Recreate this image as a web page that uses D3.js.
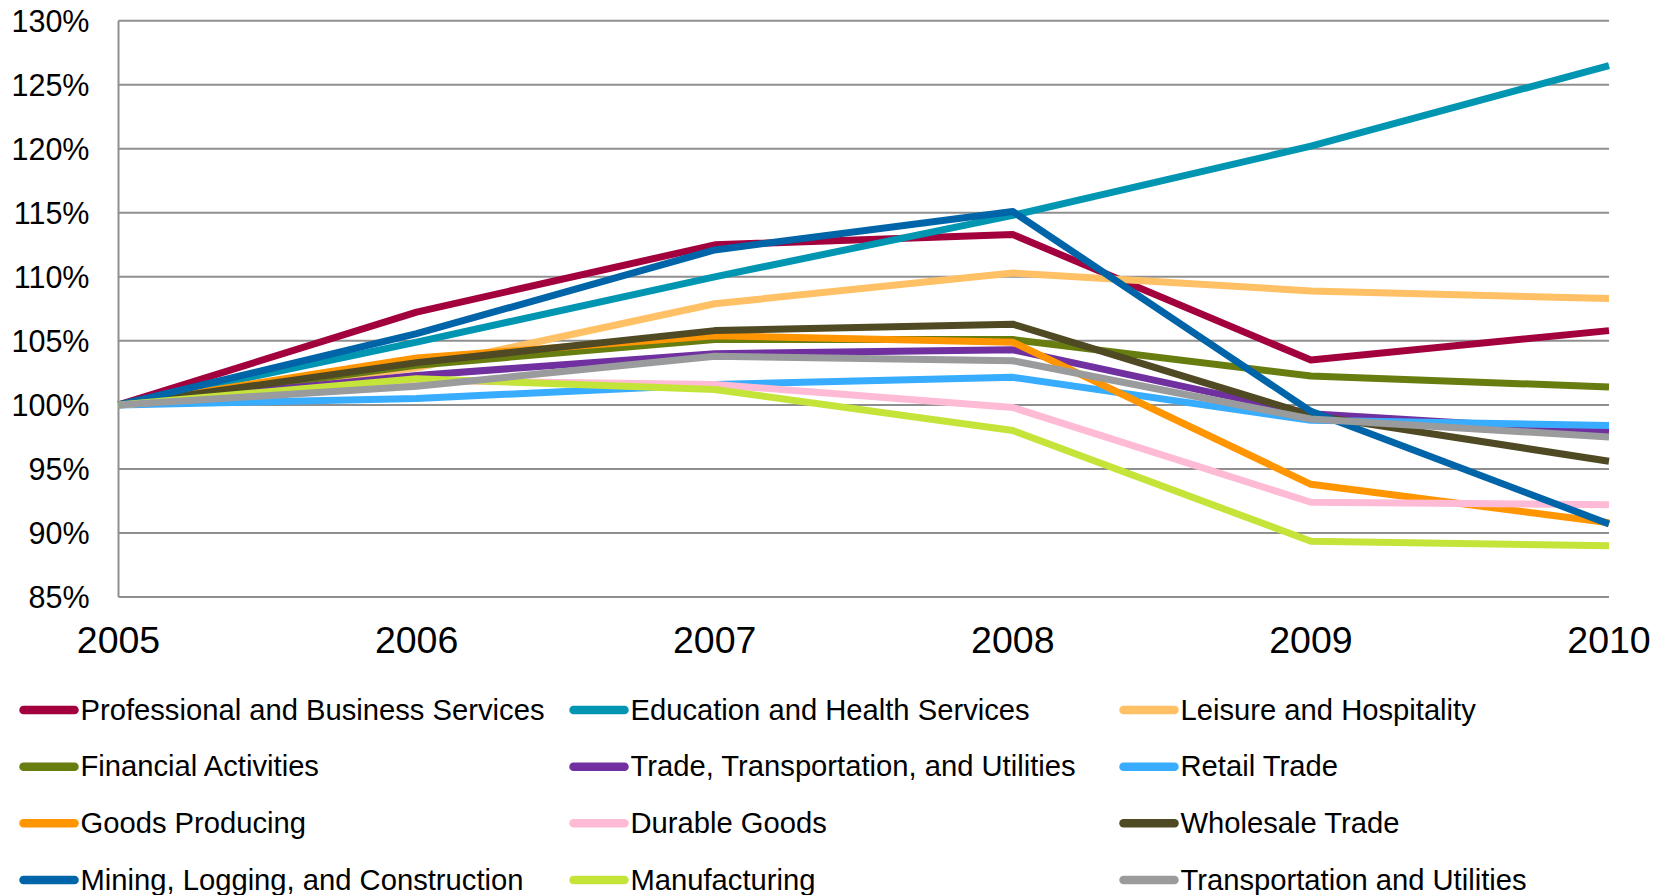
<!DOCTYPE html>
<html>
<head>
<meta charset="utf-8">
<script src="https://cdn.jsdelivr.net/npm/d3@7"></script>
<style>
  html, body { margin: 0; padding: 0; background: #fff; }
  svg { display: block; font-family: "Liberation Sans", Arial, sans-serif; }
</style>
</head>
<body>
<svg id="chart" width="1669" height="895"></svg>
<script>
const years = [2005, 2006, 2007, 2008, 2009, 2010];
const yTicks = [85, 90, 95, 100, 105, 110, 115, 120, 125, 130];

const seriesNames = [
  "Professional and Business Services",
  "Education and Health Services",
  "Leisure and Hospitality",
  "Financial Activities",
  "Trade, Transportation, and Utilities",
  "Retail Trade",
  "Goods Producing",
  "Durable Goods",
  "Wholesale Trade",
  "Mining, Logging, and Construction",
  "Manufacturing",
  "Transportation and Utilities"
];

const professional   = [100, 107.25, 112.5, 113.3, 103.5, 105.8];
const education      = [100, 104.9, 110.0, 114.8, 120.2, 126.5];
const leisure        = [100, 102.9, 107.9, 110.3, 108.9, 108.3];
const financial      = [100, 103.1, 105.1, 105.1, 102.25, 101.4];
const trade          = [100, 102.3, 104.0, 104.3, 99.3, 97.9];
const retail         = [100, 100.5, 101.6, 102.15, 98.8, 98.4];
const goods          = [100, 103.66, 105.4, 104.9, 93.8, 90.8];
const durable        = [100, 101.9, 101.6, 99.8, 92.4, 92.2];
const wholesale      = [100, 103.3, 105.8, 106.3, 99.2, 95.6];
const mining         = [100, 105.56, 112.1, 115.1, 99.5, 90.7];
const manufacturing  = [100, 102.05, 101.2, 98.0, 89.35, 89.0];
const transportation = [100, 101.45, 103.8, 103.45, 98.9, 97.5];

const seriesValues = [professional, education, leisure, financial, trade, retail,
  goods, durable, wholesale, mining, manufacturing, transportation];

const colors = ["#A3003E", "#0096B2", "#FFC066", "#687D10", "#7030A0", "#38ACFF",
  "#FF9500", "#FFBBD6", "#4F4A24", "#0064A8", "#C5E43A", "#9A9B9C"];

const svg = d3.select("#chart");
const plotLeft = 118.5, plotRight = 1609, plotTop = 20.7, plotBottom = 597;

const x = d3.scaleLinear().domain([2005, 2010]).range([plotLeft, plotRight]);
const y = d3.scaleLinear().domain([85, 130]).range([plotBottom, plotTop]);

// gridlines
svg.append("g").selectAll("line").data(yTicks).join("line")
  .attr("x1", plotLeft).attr("x2", plotRight)
  .attr("y1", d => y(d)).attr("y2", d => y(d))
  .attr("stroke", "#8f8f8f").attr("stroke-width", 2);
// left axis line
svg.append("line").attr("x1", plotLeft).attr("x2", plotLeft)
  .attr("y1", plotTop).attr("y2", plotBottom)
  .attr("stroke", "#8f8f8f").attr("stroke-width", 2);

// y labels
svg.append("g").selectAll("text").data(yTicks).join("text")
  .attr("x", 89.5).attr("y", d => y(d) + 10.8)
  .attr("text-anchor", "end").attr("font-size", 30.5).attr("fill", "#000")
  .text(d => d + "%");

// x labels
svg.append("g").selectAll("text").data(years).join("text")
  .attr("x", d => x(d)).attr("y", 653.3)
  .attr("text-anchor", "middle").attr("font-size", 37.5).attr("fill", "#000")
  .text(d => d);

// lines
const line = d3.line().x((d, i) => x(years[i])).y(d => y(d));
svg.append("g").selectAll("path").data(seriesValues).join("path")
  .attr("d", d => line(d))
  .attr("fill", "none")
  .attr("stroke", (d, i) => colors[i])
  .attr("stroke-width", 7)
  .attr("stroke-linejoin", "round")
  .attr("stroke-linecap", "butt");

// legend
const colX = [19.5, 569.5, 1119.5];
const rowY = [710, 766.7, 823.3, 880];
const leg = svg.append("g").selectAll("g").data(seriesNames).join("g")
  .attr("transform", (d, i) => `translate(${colX[i % 3]},${rowY[Math.floor(i / 3)]})`);
leg.append("line").attr("x1", 4).attr("x2", 55).attr("y1", 0).attr("y2", 0)
  .attr("stroke", (d, i) => colors[i]).attr("stroke-width", 8.5)
  .attr("stroke-linecap", "round");
leg.append("text").attr("x", 61).attr("y", 9.5)
  .attr("font-size", 29.2).attr("fill", "#000")
  .text(d => d);
</script>
</body>
</html>
